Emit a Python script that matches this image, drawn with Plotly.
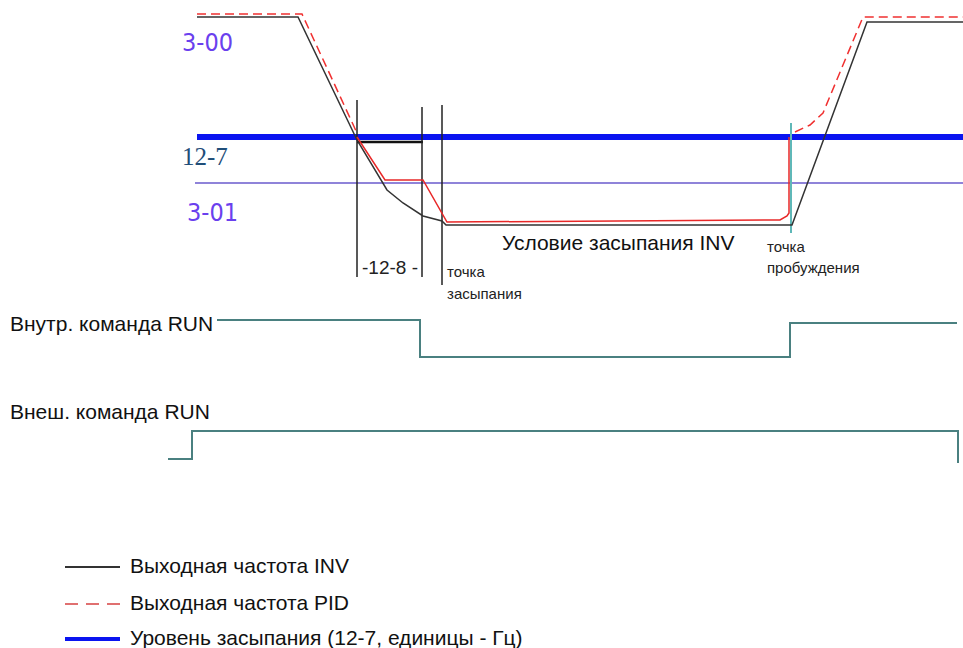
import plotly.graph_objects as go

# Time axis (horizontal position) and frequency level (vertical position, screen-down)
inv_t = [197, 298, 357, 372, 387, 403, 423, 442, 446, 792, 867, 963]
inv_f = [17, 17, 140, 165, 190, 203, 216, 221, 225, 225, 22, 22]

pid_dash_t1 = [197, 302, 357]
pid_dash_f1 = [14, 14, 133]
pid_solid_t = [357, 385, 423, 447, 780, 787, 789, 789]
pid_solid_f = [137, 180, 180, 222, 220, 216, 213, 137]
pid_dash_t2 = [795, 810, 823, 863, 963]
pid_dash_f2 = [132, 125, 113, 17, 17]

sleep_level_t = [197, 963]
sleep_level_f = [137, 137]
min_freq_t = [195, 963]
min_freq_f = [183, 183]
delay_bar_t = [357, 423]
delay_bar_f = [142, 142]

markers_t = [357, 422, 442]
markers_top = [100, 107, 105]
markers_bot = [277, 277, 285]

wake_t = 791
wake_span = [123, 233]

int_run_t = [217, 420, 420, 790, 790, 957]
int_run_v = [320, 320, 357, 357, 323, 323]
ext_run_t = [168, 192, 192, 958, 958]
ext_run_v = [459, 459, 431, 431, 463]

legend_labels = ["Выходная частота INV", "Выходная частота PID",
                 "Уровень засыпания (12-7, единицы - Гц)"]
legend_rows = [567, 604, 639]

fig = go.Figure()

def line(x, y, color, width, dash="solid"):
    fig.add_trace(go.Scatter(x=x, y=y, mode="lines", hoverinfo="skip",
                             line=dict(color=color, width=width, dash=dash)))

# reference levels
line(min_freq_t, min_freq_f, "#6a5acd", 1.5)
line(sleep_level_t, sleep_level_f, "#0a14f0", 6)
line(delay_bar_t, delay_bar_f, "#111111", 2.5)

# time markers
for t, a, b in zip(markers_t, markers_top, markers_bot):
    line([t, t], [a, b], "#222222", 1.5)
line([wake_t, wake_t], wake_span, "#5fb8b8", 2)

# frequency curves
line(inv_t, inv_f, "#333333", 1.5)
line(pid_dash_t1, pid_dash_f1, "#f03030", 1.5, "9px,5px")
line(pid_solid_t, pid_solid_f, "#e82828", 1.5)
line(pid_dash_t2, pid_dash_f2, "#f03030", 1.5, "9px,5px")

# run command signals
line(int_run_t, int_run_v, "#4a8080", 2)
line(ext_run_t, ext_run_v, "#4a8080", 2)

# legend samples
line([65, 120], [legend_rows[0]] * 2, "#333333", 2)
line([65, 120], [legend_rows[1]] * 2, "#e07070", 2, "13px,8px")
line([65, 120], [legend_rows[2]] * 2, "#0a14f0", 4)

ann = []
def text(x, y, s, size=16, color="#111111", family="Arial", anchor="left"):
    ann.append(dict(x=x, y=y, text=s, showarrow=False, xanchor=anchor, yanchor="middle",
                    font=dict(size=size, color=color, family=family)))

narrow = "Liberation Sans Narrow, DejaVu Sans Condensed, Liberation Sans"
serif = "Liberation Serif, DejaVu Serif"
sans = "Liberation Sans"
text(180, 42, "3-00", 25, "#6a40ee", narrow)
text(180, 156, "12-7", 25, "#1f4e79", serif)
text(185, 212, "3-01", 25, "#6a40ee", narrow)
text(390, 267, "-12-8 -", 19, "#222222", sans, "center")
text(618, 242, "Условие засыпания INV", 21, "#111111", sans, "center")
text(445, 271, "точка", 15, "#222222", sans)
text(445, 293, "засыпания", 15, "#222222", sans)
text(765, 246, "точка", 15, "#222222", sans)
text(765, 267, "пробуждения", 15, "#222222", sans)
text(8, 323, "Внутр. команда RUN", 21, "#111111", sans)
text(8, 411, "Внеш. команда RUN", 21, "#111111", sans)
for lab, yy in zip(legend_labels, legend_rows):
    text(128, yy - 2, lab, 21, "#111111", sans)

fig.update_layout(
    width=963, height=648, margin=dict(l=0, r=0, t=0, b=0),
    paper_bgcolor="white", plot_bgcolor="white", showlegend=False,
    xaxis=dict(range=[0, 963], visible=False, fixedrange=True),
    yaxis=dict(range=[648, 0], visible=False, fixedrange=True),
    annotations=ann,
)
fig.write_html("out.html", config={"displayModeBar": False})
